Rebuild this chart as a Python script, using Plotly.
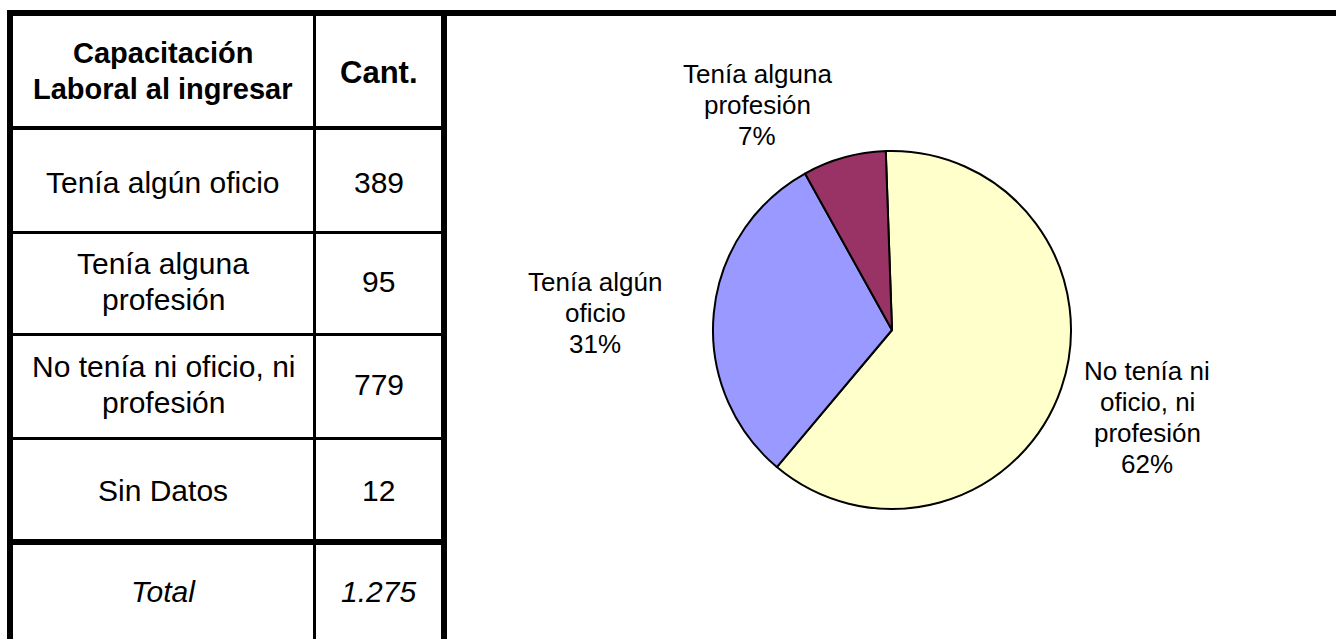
import plotly.graph_objects as go

# ---------------- data ----------------
table_header = ["Capacitación|Laboral al ingresar", "Cant."]
table_categories = ["Tenía algún oficio", "Tenía alguna|profesión",
                    "No tenía ni oficio, ni|profesión", "Sin Datos"]
table_counts = [389, 95, 779, 12]
total_label = "Total"

pie_categories = ["No tenía ni|oficio, ni|profesión", "Tenía algún|oficio", "Tenía alguna|profesión"]
pie_values = [779, 389, 95]
pie_percent_labels = ["62%", "31%", "7%"]
pie_colors = ["#FFFFCC", "#9999FF", "#993366"]

# ---------------- layout helpers ----------------
W, H = 1336, 639
FONT = "Arial, Liberation Sans, sans-serif"

fig = go.Figure()

fig.add_trace(go.Pie(
    labels=[c.replace("|", " ") for c in pie_categories],
    values=pie_values,
    sort=False,
    direction="clockwise",
    rotation=-2,
    marker=dict(colors=pie_colors, line=dict(color="black", width=2)),
    textinfo="none",
    hoverinfo="label+value+percent",
    showlegend=False,
    domain=dict(x=[713 / W, 1071 / W], y=[1 - 509 / H, 1 - 151 / H]),
))

shapes = []
def rect(x0, y0, x1, y1):
    shapes.append(dict(type="rect", xref="x", yref="y", x0=x0, y0=y0, x1=x1, y1=y1,
                       fillcolor="black", line=dict(width=0), layer="above"))

# outer / structural borders
rect(7, 10, W, 16)        # top
rect(7, 10, 13, H)        # left
rect(441, 10, 447, H)     # table right / chart left
rect(313, 16, 316, H)     # column divider
# row separators
rect(13, 126, 441, 130)
rect(13, 231, 441, 234)
rect(13, 333, 441, 336)
rect(13, 437, 441, 440)
rect(13, 539, 441, 545)

annotations = []
def text_block(txt, x, yc, size, spacing, bold=False, italic=False):
    lines = txt.split("|")
    n = len(lines)
    for i, ln in enumerate(lines):
        y = yc + (i - (n - 1) / 2) * spacing
        s = ln
        if bold:
            s = "<b>" + s + "</b>"
        if italic:
            s = "<i>" + s + "</i>"
        annotations.append(dict(xref="x", yref="y", x=x, y=y, text=s, showarrow=False,
                                xanchor="center", yanchor="middle",
                                font=dict(family=FONT, size=size, color="black")))

COL1, COL2 = 163, 378.5
TS = 30
# header
text_block(table_header[0], COL1, 71, 29, 36, bold=True)
text_block(table_header[1], COL2, 72, 31, 36, bold=True)
# rows
row_centers = [182, 281, 384, 490]
for cat, cnt, yc in zip(table_categories, table_counts, row_centers):
    text_block(cat, COL1, yc, TS, 36)
    text_block(str(cnt), COL2, yc, TS, 36)
total = sum(table_counts)
total_str = f"{total:,}".replace(",", ".")
text_block(total_label, COL1, 591, TS, 36, italic=True)
text_block(total_str, COL2, 591, TS, 36, italic=True)

# pie labels
label_pos = [(1147, 417), (595, 313), (757, 105)]
for cat, pct, (x, y) in zip(pie_categories, pie_percent_labels, label_pos):
    text_block(cat + "|" + pct, x, y, 26, 31)

fig.update_layout(
    width=W, height=H,
    margin=dict(l=0, r=0, t=0, b=0),
    paper_bgcolor="white", plot_bgcolor="white",
    xaxis=dict(range=[0, W], visible=False, fixedrange=True),
    yaxis=dict(range=[H, 0], visible=False, fixedrange=True),
    shapes=shapes, annotations=annotations,
    showlegend=False,
)

fig.write_html("out.html",
               config={"displayModeBar": False},
               post_script="document.body.style.margin='0';document.body.style.overflow='hidden';")
